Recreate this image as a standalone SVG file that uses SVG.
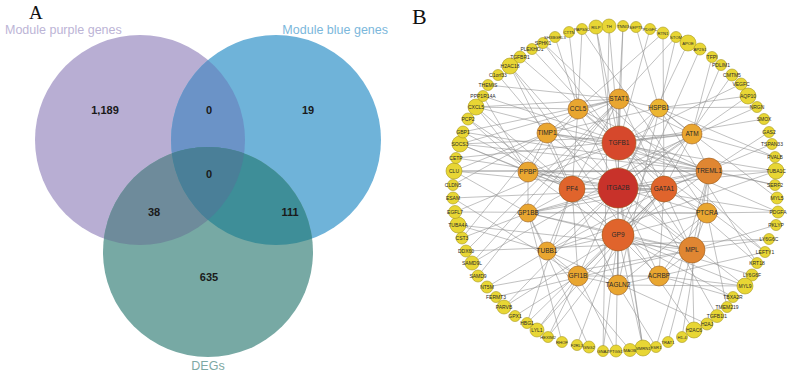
<svg xmlns="http://www.w3.org/2000/svg" width="791" height="372" viewBox="0 0 791 372">
<style>
.lbl{font-family:"Liberation Serif",serif;fill:#111}
.set{font-family:"Liberation Sans",Arial,sans-serif;font-size:12.5px}
.num{font-family:"Liberation Sans",Arial,sans-serif;font-size:11px;font-weight:bold;fill:#1a1a1a;text-anchor:middle}
.e{fill:none;stroke:#8c8c8c;stroke-width:0.6;stroke-opacity:0.9}
.o circle{fill:#e8d634;stroke:#a8981e;stroke-width:0.6}
.o text{font-family:"Liberation Sans",Arial,sans-serif;font-size:5px;fill:#2a2a2a;text-anchor:middle}
.o text.t{font-size:4.2px}
.i text{font-family:"Liberation Sans",Arial,sans-serif;font-size:6.5px;fill:#2a2a2a;text-anchor:middle}
.i circle{stroke:#9a5a18;stroke-width:0.6}
.c1{fill:#e9a630}.c2{fill:#e08632}.c3{fill:#e0642c}.c4{fill:#d6482c}.c5{fill:#c8322a}.c0{fill:#ecb632}
</style>
<defs>
<clipPath id="cP"><circle cx="140" cy="140" r="105"/></clipPath>
<clipPath id="cB"><circle cx="276" cy="140" r="105"/></clipPath>
</defs>
<g id="panel-A">
<text class="lbl" x="29" y="19" font-size="19">A</text>
<text class="set" x="5" y="34" fill="#bcb4d6">Module purple genes</text>
<text class="set" x="388" y="34" fill="#7bb7db" text-anchor="end">Module blue genes</text>
<text class="set" x="208" y="370" fill="#7ea9a4" text-anchor="middle">DEGs</text>
<g id="set-purple"><circle cx="140" cy="140" r="105" fill="#b8aed3"/></g>
<g id="set-blue"><circle cx="276" cy="140" r="105" fill="#6fb3d9"/></g>
<g id="set-degs"><circle cx="208" cy="252" r="105" fill="#77a9a4"/></g>
<circle cx="276" cy="140" r="105" fill="#6b93c7" clip-path="url(#cP)"/>
<circle cx="208" cy="252" r="105" fill="#6e8b9b" clip-path="url(#cP)"/>
<circle cx="208" cy="252" r="105" fill="#3e8e98" clip-path="url(#cB)"/>
<g clip-path="url(#cP)"><circle cx="208" cy="252" r="105" fill="#4a7f98" clip-path="url(#cB)"/></g>
<text class="num" x="105" y="114">1,189</text>
<text class="num" x="209" y="114">0</text>
<text class="num" x="308" y="114">19</text>
<text class="num" x="209" y="178">0</text>
<text class="num" x="154" y="216">38</text>
<text class="num" x="290" y="216">111</text>
<text class="num" x="209" y="281">635</text>
</g>
<g id="panel-B">
<text class="lbl" x="412" y="24" font-size="22">B</text>
<g id="connectors">
<path class="e" d="M618 188L619 143M618 188L618 235M618 188L572 189M618 188L664 189M618 188L709 171M618 188L692 250M618 188L578 109M618 188L619 99M618 188L547 133M618 188L528 172M618 188L528 213M618 188L547 251M618 188L578 276M618 188L618 285M618 188L659 276M618 188L707 213M618 188L692 134M618 188L659 108M618 188L454 171M618 188L776 171M618 188L745 286M618 188L510 66M618 188L688 43M618 188L643 348M618 188L748 96M618 188L504 307"/>
<path class="e" d="M619 143L572 189M619 143L664 189M619 143L619 99M619 143L578 109M619 143L547 133M619 143L659 108M619 143L692 134M619 143L709 171M619 143L692 250M619 143L528 172M619 143L543 43M619 143L532 49M619 143L520 57M619 143L596 27M619 143L609 26M619 143L741 84M619 143L476 107M619 143L778 212M619 143L765 252M619 143L717 316M619 143L764 119M619 143L455 212M619 143L757 263M619 143L623 26M619 143L650 29"/>
<path class="e" d="M618 235L572 189M618 235L664 189M618 235L692 250M618 235L528 213M618 235L547 251M618 235L578 276M618 235L618 285M618 235L659 276M618 235L707 213M618 235L709 171M618 235L528 172M618 235L643 348M618 235L603 351M618 235L733 297M618 235L752 275M618 235L577 345M618 235L732 75M618 235L700 49M618 235L745 286M618 235L504 307M618 235L616 351"/>
<path class="e" d="M572 189L664 189M572 189L528 172M572 189L578 109M572 189L547 133M572 189L528 213M572 189L547 251M572 189L578 276M572 189L476 107M572 189L460 144M572 189L463 132M572 189L619 99M572 189L692 250M572 189L527 323M572 189L757 107M572 189L468 119"/>
<path class="e" d="M664 189L692 250M664 189L709 171M664 189L578 276M664 189L659 276M664 189L707 213M664 189L537 330M664 189L548 337M664 189L619 99M664 189L692 134M664 189L547 251M664 189L528 213M664 189L527 323M664 189L453 198M664 189L456 158M664 189L772 144M664 189L663 33"/>
<path class="e" d="M619 99L578 109M619 99L659 108M619 99L547 133M619 99L463 132M619 99L478 276M619 99L472 263M619 99L466 251M619 99L460 144M619 99L692 134M619 99L488 85M619 99L623 26M619 99L476 107M619 99L676 37"/>
<path class="e" d="M578 109L547 133M578 109L528 172M578 109L476 107M578 109L555 37M578 109L569 32M578 109L663 33M578 109L709 171M578 109L582 29"/>
<path class="e" d="M659 108L692 134M659 108L547 133M659 108L748 96M659 108L757 107M659 108L775 157M659 108L777 198M659 108L757 263M659 108L636 27"/>
<path class="e" d="M547 133L528 172M547 133L454 171M547 133L462 238M547 133L775 185M547 133L453 185M547 133L776 171M547 133L498 75"/>
<path class="e" d="M528 172L528 213M528 172L476 107M528 172L460 144M528 172L468 119M528 172L709 171M528 172L778 212M528 172L483 96"/>
<path class="e" d="M528 213L547 251M528 213L454 171M528 213L692 250M528 213L709 171M528 213L707 213M528 213L589 347M528 213L562 342M528 213L462 238"/>
<path class="e" d="M547 251L578 276M547 251L458 225M547 251L776 171M547 251L630 350M547 251L707 324M547 251L487 287"/>
<path class="e" d="M692 250L709 171M692 250L707 213M692 250L659 276M692 250L769 239M692 250L776 225M692 250L496 297M692 250L487 287M692 250L668 342M692 250L694 330M692 250L458 225"/>
<path class="e" d="M709 171L707 213M709 171L692 134M709 171L775 185M709 171L454 171M709 171L460 144M709 171L463 132M709 171L483 96M709 171L682 337M709 171L656 347M709 171L769 132"/>
<path class="e" d="M707 213L659 276M707 213L618 285M707 213L778 212M707 213L727 307M707 213L582 29M707 213L455 212"/>
<path class="e" d="M659 276L618 285M659 276L578 276M659 276L745 286M659 276L733 297M659 276L765 252"/>
<path class="e" d="M618 285L578 276M618 285L745 286M618 285L510 66M618 285L656 347M618 285L676 37"/>
<path class="e" d="M578 276L537 330M578 276L515 316M578 276L548 337M578 276L616 351M578 276L453 198"/>
<path class="e" d="M692 134L456 158M692 134L460 144M692 134L775 157M692 134L712 57M692 134L721 65M692 134L472 263"/>
<path class="e" d="M454 171L776 171M510 66L694 330M466 251L769 239M596 27L643 348M609 26L603 351M543 43L765 252"/>
</g>
<g class="o">
<g id="n-THEMIS"><circle cx="488" cy="85" r="5.5"/><text x="488" y="87">THEMIS</text></g>
<g id="n-C1orf33"><circle cx="498" cy="75" r="5.5"/><text x="498" y="77">C1orf33</text></g>
<g id="n-H2AC18"><circle cx="510" cy="66" r="8"/><text x="510" y="68">H2AC18</text></g>
<g id="n-TGFBR1"><circle cx="520" cy="57" r="6"/><text x="520" y="59">TGFBR1</text></g>
<g id="n-PLEKHO1"><circle cx="532" cy="49" r="5.5"/><text x="532" y="51">PLEKHO1</text></g>
<g id="n-SPHK1"><circle cx="543" cy="43" r="5.5"/><text x="543" y="45">SPHK1</text></g>
<g id="n-SH3BGRL3"><circle cx="555" cy="37" r="5.5"/><text class="t" x="555" y="39">SH3BGRL3</text></g>
<g id="n-CTTN"><circle cx="569" cy="32" r="5.5"/><text class="t" x="569" y="34">CTTN</text></g>
<g id="n-PAPSS2"><circle cx="582" cy="29" r="5.5"/><text class="t" x="582" y="31">PAPSS2</text></g>
<g id="n-RILP"><circle cx="596" cy="27" r="7"/><text class="t" x="596" y="29">RILP</text></g>
<g id="n-TH"><circle cx="609" cy="26" r="7"/><text class="t" x="609" y="28">TH</text></g>
<g id="n-TNNI3"><circle cx="623" cy="26" r="5.5"/><text class="t" x="623" y="28">TNNI3</text></g>
<g id="n-SEPT5"><circle cx="636" cy="27" r="5.5"/><text class="t" x="636" y="29">SEPT5</text></g>
<g id="n-PDGFC"><circle cx="650" cy="29" r="5.5"/><text class="t" x="650" y="31">PDGFC</text></g>
<g id="n-RTN1"><circle cx="663" cy="33" r="6"/><text class="t" x="663" y="35">RTN1</text></g>
<g id="n-STOM"><circle cx="676" cy="37" r="5.5"/><text class="t" x="676" y="39">STOM</text></g>
<g id="n-APOE"><circle cx="688" cy="43" r="8"/><text class="t" x="688" y="45">APOE</text></g>
<g id="n-AP2S1"><circle cx="700" cy="49" r="6"/><text class="t" x="700" y="51">AP2S1</text></g>
<g id="n-TFPI"><circle cx="712" cy="57" r="5.5"/><text x="712" y="59">TFPI</text></g>
<g id="n-PDLIM1"><circle cx="721" cy="65" r="5.5"/><text x="721" y="67">PDLIM1</text></g>
<g id="n-CMTM5"><circle cx="732" cy="75" r="6"/><text x="732" y="77">CMTM5</text></g>
<g id="n-VEGFC"><circle cx="741" cy="84" r="6"/><text x="741" y="86">VEGFC</text></g>
<g id="n-AQP10"><circle cx="748" cy="96" r="8"/><text x="748" y="98">AQP10</text></g>
<g id="n-NRGN"><circle cx="757" cy="107" r="5.5"/><text x="757" y="109">NRGN</text></g>
<g id="n-SMOX"><circle cx="764" cy="119" r="5.5"/><text x="764" y="121">SMOX</text></g>
<g id="n-GAS2"><circle cx="769" cy="132" r="5.5"/><text x="769" y="134">GAS2</text></g>
<g id="n-TSPAN33"><circle cx="772" cy="144" r="5.5"/><text x="772" y="146">TSPAN33</text></g>
<g id="n-PVALB"><circle cx="775" cy="157" r="5.5"/><text x="775" y="159">PVALB</text></g>
<g id="n-TUBA1C"><circle cx="776" cy="171" r="8"/><text x="776" y="173">TUBA1C</text></g>
<g id="n-SERF2"><circle cx="775" cy="185" r="5.5"/><text x="775" y="187">SERF2</text></g>
<g id="n-MYL5"><circle cx="777" cy="198" r="6"/><text x="777" y="200">MYL5</text></g>
<g id="n-PDGFA"><circle cx="778" cy="212" r="6"/><text x="778" y="214">PDGFA</text></g>
<g id="n-PKLYP"><circle cx="776" cy="225" r="5.5"/><text x="776" y="227">PKLYP</text></g>
<g id="n-LY6G6C"><circle cx="769" cy="239" r="5.5"/><text x="769" y="241">LY6G6C</text></g>
<g id="n-LEFTY1"><circle cx="765" cy="252" r="5.5"/><text x="765" y="254">LEFTY1</text></g>
<g id="n-KRT18"><circle cx="757" cy="263" r="5.5"/><text x="757" y="265">KRT18</text></g>
<g id="n-LY6G6F"><circle cx="752" cy="275" r="6"/><text x="752" y="277">LY6G6F</text></g>
<g id="n-MYL9"><circle cx="745" cy="286" r="8"/><text x="745" y="288">MYL9</text></g>
<g id="n-TBXA2R"><circle cx="733" cy="297" r="5.5"/><text x="733" y="299">TBXA2R</text></g>
<g id="n-TMEM219"><circle cx="727" cy="307" r="5.5"/><text x="727" y="309">TMEM219</text></g>
<g id="n-TGFB1I1"><circle cx="717" cy="316" r="6.5"/><text x="717" y="318">TGFB1I1</text></g>
<g id="n-H2AJ"><circle cx="707" cy="324" r="6"/><text x="707" y="326">H2AJ</text></g>
<g id="n-H2AC6"><circle cx="694" cy="330" r="8"/><text x="694" y="332">H2AC6</text></g>
<g id="n-H1-4"><circle cx="682" cy="337" r="5.5"/><text class="t" x="682" y="339">H1-4</text></g>
<g id="n-TRAT1"><circle cx="668" cy="342" r="5.5"/><text class="t" x="668" y="344">TRAT1</text></g>
<g id="n-ESR1"><circle cx="656" cy="347" r="5.5"/><text class="t" x="656" y="349">ESR1</text></g>
<g id="n-MMRN1"><circle cx="643" cy="348" r="8"/><text class="t" x="643" y="350">MMRN1</text></g>
<g id="n-MAOB"><circle cx="630" cy="350" r="6.5"/><text class="t" x="630" y="352">MAOB</text></g>
<g id="n-PTGS1"><circle cx="616" cy="351" r="6"/><text class="t" x="616" y="353">PTGS1</text></g>
<g id="n-GNAZ"><circle cx="603" cy="351" r="5.5"/><text class="t" x="603" y="353">GNAZ</text></g>
<g id="n-GNG2"><circle cx="589" cy="347" r="6"/><text class="t" x="589" y="349">GNG2</text></g>
<g id="n-F2RL3"><circle cx="577" cy="345" r="5.5"/><text class="t" x="577" y="347">F2RL3</text></g>
<g id="n-RHOF"><circle cx="562" cy="342" r="5.5"/><text class="t" x="562" y="344">RHOF</text></g>
<g id="n-HEXIM2"><circle cx="548" cy="337" r="5.5"/><text class="t" x="548" y="339">HEXIM2</text></g>
<g id="n-LYL1"><circle cx="537" cy="330" r="7"/><text x="537" y="332">LYL1</text></g>
<g id="n-HBG1"><circle cx="527" cy="323" r="5.5"/><text x="527" y="325">HBG1</text></g>
<g id="n-GPX1"><circle cx="515" cy="316" r="5.5"/><text x="515" y="318">GPX1</text></g>
<g id="n-PARVB"><circle cx="504" cy="307" r="7"/><text x="504" y="309">PARVB</text></g>
<g id="n-FERMT3"><circle cx="496" cy="297" r="5.5"/><text x="496" y="299">FERMT3</text></g>
<g id="n-NT5M"><circle cx="487" cy="287" r="6"/><text x="487" y="289">NT5M</text></g>
<g id="n-SAMD9"><circle cx="478" cy="276" r="6"/><text x="478" y="278">SAMD9</text></g>
<g id="n-SAMD9L"><circle cx="472" cy="263" r="7"/><text x="472" y="265">SAMD9L</text></g>
<g id="n-DDX60"><circle cx="466" cy="251" r="6"/><text x="466" y="253">DDX60</text></g>
<g id="n-CST3"><circle cx="462" cy="238" r="6"/><text x="462" y="240">CST3</text></g>
<g id="n-TUBA4A"><circle cx="458" cy="225" r="8"/><text x="458" y="227">TUBA4A</text></g>
<g id="n-EGFL7"><circle cx="455" cy="212" r="6.5"/><text x="455" y="214">EGFL7</text></g>
<g id="n-ESAM"><circle cx="453" cy="198" r="6"/><text x="453" y="200">ESAM</text></g>
<g id="n-CLDN5"><circle cx="453" cy="185" r="5.5"/><text x="453" y="187">CLDN5</text></g>
<g id="n-CLU"><circle cx="454" cy="171" r="8"/><text x="454" y="173">CLU</text></g>
<g id="n-CETP"><circle cx="456" cy="158" r="5.5"/><text x="456" y="160">CETP</text></g>
<g id="n-SOCS3"><circle cx="460" cy="144" r="8"/><text x="460" y="146">SOCS3</text></g>
<g id="n-GBP1"><circle cx="463" cy="132" r="6"/><text x="463" y="134">GBP1</text></g>
<g id="n-PCP2"><circle cx="468" cy="119" r="6"/><text x="468" y="121">PCP2</text></g>
<g id="n-CXCL5"><circle cx="476" cy="107" r="8"/><text x="476" y="109">CXCL5</text></g>
<g id="n-PPP1R14A"><circle cx="483" cy="96" r="5.5"/><text x="483" y="98">PPP1R14A</text></g>
</g>
<g class="i">
<g id="n-CCL5"><circle class="c1" cx="578" cy="109" r="10"/><text x="578" y="111.3">CCL5</text></g>
<g id="n-STAT1"><circle class="c1" cx="619" cy="99" r="10"/><text x="619" y="101.3">STAT1</text></g>
<g id="n-HSPB1"><circle class="c0" cx="659" cy="108" r="9"/><text x="659" y="110.3">HSPB1</text></g>
<g id="n-ATM"><circle class="c1" cx="692" cy="134" r="10"/><text x="692" y="136.3">ATM</text></g>
<g id="n-TIMP1"><circle class="c1" cx="547" cy="133" r="10"/><text x="547" y="135.3">TIMP1</text></g>
<g id="n-PPBP"><circle class="c1" cx="528" cy="172" r="10"/><text x="528" y="174.3">PPBP</text></g>
<g id="n-GP1BB"><circle class="c1" cx="528" cy="213" r="9"/><text x="528" y="215.3">GP1BB</text></g>
<g id="n-TUBB1"><circle class="c1" cx="547" cy="251" r="9"/><text x="547" y="253.3">TUBB1</text></g>
<g id="n-GFI1B"><circle class="c1" cx="578" cy="276" r="10"/><text x="578" y="278.3">GFI1B</text></g>
<g id="n-TAGLN2"><circle class="c1" cx="618" cy="285" r="10"/><text x="618" y="287.3">TAGLN2</text></g>
<g id="n-ACRBP"><circle class="c1" cx="659" cy="276" r="10"/><text x="659" y="278.3">ACRBP</text></g>
<g id="n-PTCRA"><circle class="c1" cx="707" cy="213" r="10"/><text x="707" y="215.3">PTCRA</text></g>
<g id="n-TREML1"><circle class="c2" cx="709" cy="171" r="13"/><text x="709" y="173.3">TREML1</text></g>
<g id="n-MPL"><circle class="c2" cx="692" cy="250" r="13"/><text x="692" y="252.3">MPL</text></g>
<g id="n-PF4"><circle class="c3" cx="572" cy="189" r="13"/><text x="572" y="191.3">PF4</text></g>
<g id="n-GATA1"><circle class="c3" cx="664" cy="189" r="13"/><text x="664" y="191.3">GATA1</text></g>
<g id="n-GP9"><circle class="c3" cx="618" cy="235" r="16"/><text x="618" y="237.3">GP9</text></g>
<g id="n-TGFB1"><circle class="c4" cx="619" cy="143" r="17"/><text x="619" y="145.3">TGFB1</text></g>
<g id="n-ITGA2B"><circle class="c5" cx="618" cy="188" r="20"/><text x="618" y="190.3">ITGA2B</text></g>
</g>
</g>
</svg>
